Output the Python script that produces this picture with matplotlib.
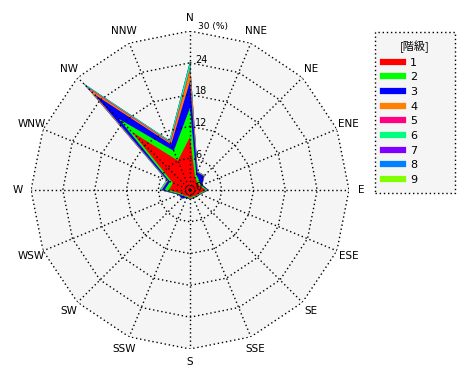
import numpy as np
import matplotlib
matplotlib.use("Agg")
import matplotlib.pyplot as plt
from matplotlib.lines import Line2D
import matplotlib.transforms as mtransforms

plt.rcParams['font.family'] = ['DejaVu Sans', 'Noto Sans CJK JP']

directions = ['N', 'NNE', 'NE', 'ENE', 'E', 'ESE', 'SE', 'SSE',
              'S', 'SSW', 'SW', 'WSW', 'W', 'WNW', 'NW', 'NNW']
classes = ['1', '2', '3', '4', '5', '6', '7', '8', '9']
colors = ['#FF0000', '#00FF00', '#0000FF', '#FF8000', '#FF0080',
          '#00FF80', '#8000FF', '#0080FF', '#80FF00']

c1 = [10.0, 2.5, 2.0, 2.0, 3.0, 1.8, 1.5, 1.3, 1.5, 1.2, 1.5, 1.8, 4.0, 3.5, 15.5, 6.0]
c2 = [5.5, 0.6, 0.5, 0.3, 0.3, 0.2, 0.2, 0.2, 0.2, 0.2, 0.2, 0.3, 0.8, 0.6, 3.5, 2.0]
c3 = [5.0, 0.5, 1.2, 0.2, 0.2, 0.1, 0.1, 0.1, 0.1, 0.2, 0.5, 0.2, 0.5, 0.4, 6.5, 1.3]
c4 = [2.0, 0.1, 0.1, 0.0, 0.0, 0.0, 0.0, 0.0, 0.0, 0.0, 0.0, 0.0, 0.1, 0.1, 1.5, 0.3]
c5 = [0.4, 0.0, 0.0, 0.0, 0.0, 0.0, 0.0, 0.0, 0.0, 0.0, 0.0, 0.0, 0.0, 0.0, 0.6, 0.2]
c6 = [1.2, 0.1, 0.1, 0.0, 0.0, 0.0, 0.0, 0.0, 0.0, 0.0, 0.1, 0.0, 0.3, 0.2, 0.6, 0.3]
c7 = [0.1, 0.0, 0.0, 0.0, 0.0, 0.0, 0.0, 0.0, 0.0, 0.0, 0.0, 0.0, 0.0, 0.0, 0.1, 0.0]
c8 = [0.1, 0.0, 0.0, 0.0, 0.0, 0.0, 0.0, 0.0, 0.0, 0.0, 0.0, 0.0, 0.0, 0.0, 0.2, 0.0]
c9 = [0.1, 0.0, 0.0, 0.0, 0.0, 0.0, 0.0, 0.0, 0.0, 0.0, 0.0, 0.0, 0.0, 0.0, 0.1, 0.0]
series = [c1, c2, c3, c4, c5, c6, c7, c8, c9]

rings = [6, 12, 18, 24, 30]
ring_labels = ['0', '6', '12', '18', '24']
rmax = 30

fig = plt.figure(figsize=(4.7, 3.8), dpi=100)
ax = fig.add_axes([31 / 470, 31 / 380, 318 / 470, 318 / 380], projection='polar')
ax.set_theta_zero_location('N')
ax.set_theta_direction(-1)
ax.set_ylim(0, rmax)
ax.set_axis_off()

n = len(directions)
theta = np.arange(n) * 2 * np.pi / n
tc = np.append(theta, theta[0])

# background polygon
ax.fill(tc, np.full(n + 1, rmax), color='#F5F5F5', zorder=0, lw=0)

# stacked fills
cum = np.cumsum(np.array(series), axis=0)
for i in range(len(series) - 1, -1, -1):
    r = np.append(cum[i], cum[i][0])
    ax.fill(tc, r, color=colors[i], lw=0, zorder=1 + (len(series) - i) * 0.01)

# polygon grid
for rv in rings:
    ax.plot(tc, np.full(n + 1, rv), color='black', lw=1.0, ls=(0, (1, 2)), zorder=3)
for t in theta:
    ax.plot([t, t], [0, rmax], color='black', lw=1.0, ls=(0, (1, 2)), zorder=3)

# direction labels
for t, d in zip(theta, directions):
    ax.text(t, 32.4, d, ha='center', va='center', fontsize=7.5, zorder=4)

# ring labels
off = ax.transData + mtransforms.ScaledTranslation(5 / 100, 0, fig.dpi_scale_trans)
for rv, lab in zip([0] + rings[:-1], ring_labels):
    ax.text(0.0, rv + 0.6, lab, ha='left', va='center', fontsize=7,
            transform=off, zorder=5)
fig.text(198 / 470, 1 - 27 / 380, '30 (%)', ha='left', va='center', fontsize=6.5)

handles = [Line2D([0], [0], color=c, lw=4.5) for c in colors]
leg = fig.legend(handles, classes, title='[階級]', loc='upper left',
                 bbox_to_anchor=(375 / 470, 1 - 197 / 380, 80 / 470, 165 / 380),
                 mode='expand', fontsize=8,
                 title_fontsize=8, handlelength=1.8, handletextpad=0.6,
                 labelspacing=0.42, borderpad=0.75, borderaxespad=0.0,
                 fancybox=False, framealpha=1, edgecolor='black')
leg.get_title().set_family(['Noto Sans CJK JP', 'DejaVu Sans'])
fr = leg.get_frame()
fr.set_facecolor('#F5F5F5')
fr.set_linestyle((0, (1, 2)))
fr.set_linewidth(1.0)

fig.savefig('out.png', dpi=100)
